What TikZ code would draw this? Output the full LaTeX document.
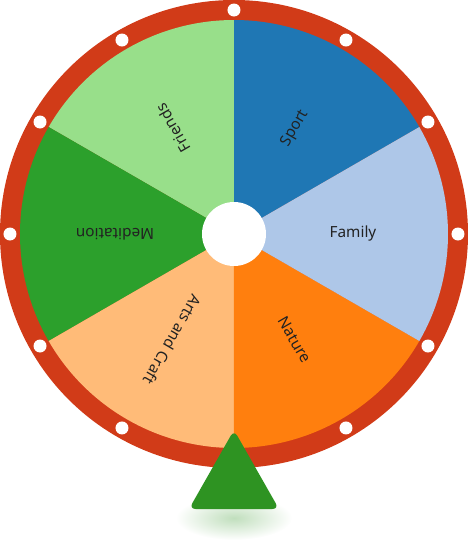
\documentclass[tikz,border=0pt]{standalone}
\usepackage{fontspec}
\setmainfont{Noto Sans}
\usepackage{tikz}
\usetikzlibrary{positioning}
\definecolor{RimRed}{HTML}{D13B18}
\definecolor{SportBlue}{HTML}{1F77B4}
\definecolor{FamilyBlue}{HTML}{AEC7E8}
\definecolor{NatureOrange}{HTML}{FF7F0E}
\definecolor{ArtsPeach}{HTML}{FFBB78}
\definecolor{MeditationGreen}{HTML}{2CA02C}
\definecolor{FriendsGreen}{HTML}{98DF8A}
\definecolor{PointerGreen}{HTML}{2E9322}
\definecolor{LabelGray}{HTML}{222222}

\begin{document}
\begin{tikzpicture}[x=0.75pt, y=0.75pt, every node/.style={font=\fontsize{11.5}{13}\selectfont, text=LabelGray}]
\tikzset{rimdot/.style={fill=white}}
\tikzset{hubdisc/.style={circle, fill=white, minimum size=48pt, inner sep=0pt}}
\useasboundingbox (-234,-317) rectangle (236,234);
% rim
\fill[RimRed] (0,0) circle (234);
% segments
\foreach \a/\c in {30/SportBlue, 90/FriendsGreen, 150/MeditationGreen, 210/ArtsPeach, 270/NatureOrange, 330/FamilyBlue}
  \fill[\c] (0,0) -- (\a:214) arc (\a:\a+60:214) -- cycle;
% dots on the rim
\foreach \d in {0,30,...,240,300,330}
  \fill[rimdot] (\d:224) circle (6.5);
\node[hubdisc] (hub) at (0,0) {};
% labels
\node[rotate=60] (sport) at (60:122) {Sport};
\node (family) at (0:119) {Family};
\node[rotate=-60] (nature) at (-60:122) {Nature};
\node[rotate=240] (arts) at (240:122) {Arts and Craft};
\node[rotate=180] (meditation) at (180:119) {Meditation};
\node[rotate=120] (friends) at (120:122) {Friends};
% pointer
\shade[inner color=PointerGreen!30, outer color=white] (0,-284) ellipse (58 and 22);
\fill[PointerGreen, rounded corners=5pt] (0,-275) -- (45,-275) -- (0,-196) -- (-45,-275) -- cycle;
\end{tikzpicture}
\end{document}
